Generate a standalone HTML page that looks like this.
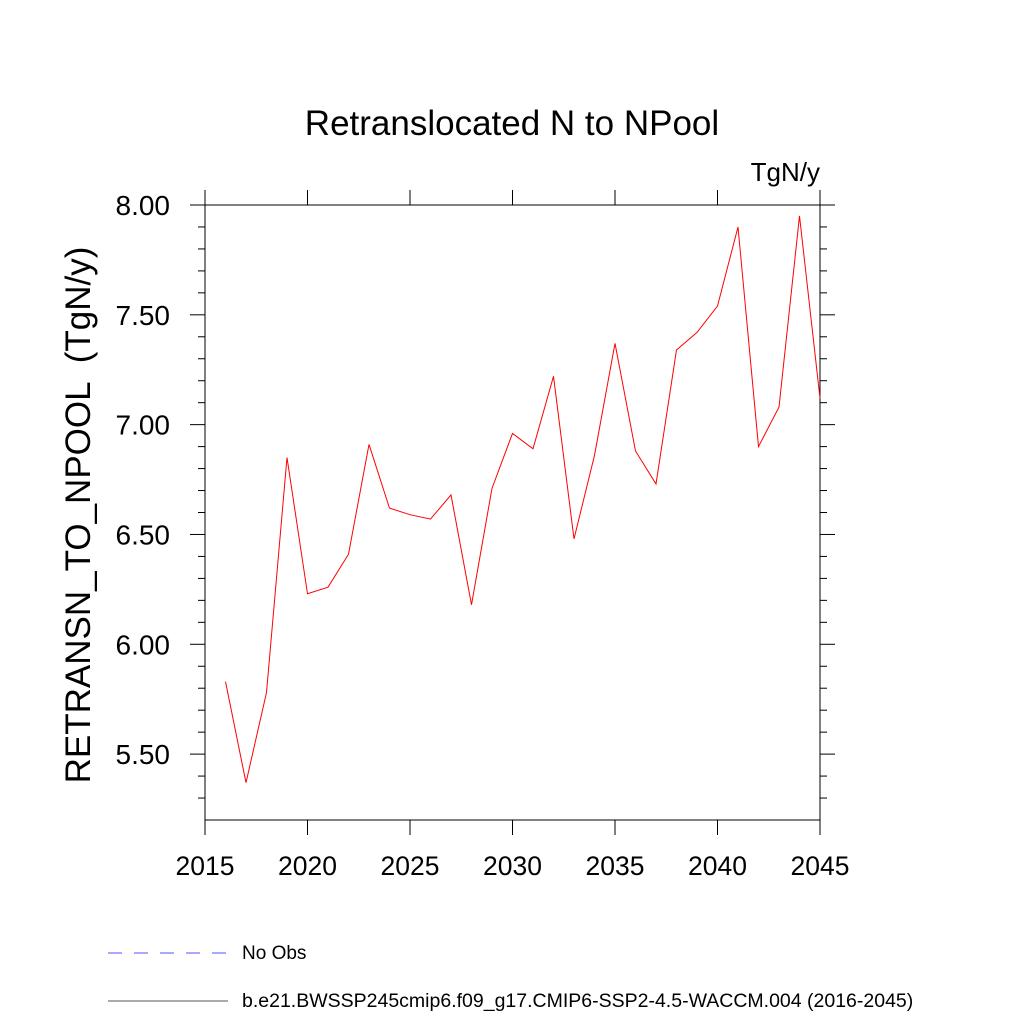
<!DOCTYPE html>
<html><head><meta charset="utf-8"><style>body{margin:0;background:#fff}svg{display:block}</style></head>
<body>
<svg id="chart" width="1024" height="1024" xmlns="http://www.w3.org/2000/svg" font-family="Liberation Sans, sans-serif">
<text x="512" y="135" font-size="35" text-anchor="middle">Retranslocated N to NPool</text>
<text x="820" y="181" font-size="26" text-anchor="end">TgN/y</text>
<text transform="translate(90,515) rotate(-90)" font-size="35" text-anchor="middle" xml:space="preserve" style="white-space:pre">RETRANSN_TO_NPOOL  (TgN/y)</text>
<g id="axes"></g>
<g id="series"></g>
<g>
<line x1="108" y1="953" x2="228" y2="953" stroke="#5050ff" stroke-width="1" stroke-dasharray="14,12"/>
<text x="242" y="959" font-size="19">No Obs</text>
<line x1="108" y1="1001" x2="228" y2="1001" stroke="#555" stroke-width="1"/>
<text x="242" y="1007" font-size="19.5">b.e21.BWSSP245cmip6.f09_g17.CMIP6-SSP2-4.5-WACCM.004 (2016-2045)</text>
</g>
</svg>
<script>
const years=[2016,2017,2018,2019,2020,2021,2022,2023,2024,2025,2026,2027,2028,2029,2030,2031,2032,2033,2034,2035,2036,2037,2038,2039,2040,2041,2042,2043,2044,2045];
const values=[5.83,5.37,5.78,6.85,6.23,6.26,6.41,6.91,6.62,6.59,6.57,6.68,6.18,6.71,6.96,6.89,7.22,6.48,6.86,7.37,6.88,6.73,7.34,7.42,7.54,7.90,6.90,7.08,7.95,7.12];
const xTicks=[2015,2020,2025,2030,2035,2040,2045];
const yTicks=[5.5,6.0,6.5,7.0,7.5,8.0];
const yTickLabels=["5.50","6.00","6.50","7.00","7.50","8.00"];
const NS='http://www.w3.org/2000/svg';
const X0=205,X1=820,Y0=205,Y1=820,XMIN=2015,XMAX=2045,YMIN=5.2,YMAX=8.0;
const xs=v=>X0+(v-XMIN)/(XMAX-XMIN)*(X1-X0);
const ys=v=>Y1-(v-YMIN)/(YMAX-YMIN)*(Y1-Y0);
const ax=document.getElementById('axes');
function ln(x1,y1,x2,y2,name){const l=document.createElementNS(NS,'line');l.setAttribute('x1',x1);l.setAttribute('y1',y1);l.setAttribute('x2',x2);l.setAttribute('y2',y2);l.setAttribute('stroke','#000');l.setAttribute('stroke-width','1');


ax.appendChild(l);}
function tx(x,y,s,anchor,name,fs){const t=document.createElementNS(NS,'text');t.setAttribute('x',x);t.setAttribute('y',y);t.setAttribute('font-size',fs);t.setAttribute('text-anchor',anchor);t.textContent=s;


ax.appendChild(t);}
const fr=document.createElementNS(NS,'rect');fr.setAttribute('x',X0);fr.setAttribute('y',Y0);fr.setAttribute('width',X1-X0);fr.setAttribute('height',Y1-Y0);fr.setAttribute('fill','none');fr.setAttribute('stroke','#000');


ax.appendChild(fr);
xTicks.forEach(v=>{const x=xs(v);ln(x,Y1,x,Y1+15,'x-tick');ln(x,Y0,x,Y0-15,'x-tick-top');tx(x,Y1+55,String(v),'middle','x-tick-label','26.5');});
for(let i=53;i<=80;i++){const v=i/10;const y=ys(v);const major=(i%5===0);const L=major?15:7;
ln(X0-L,y,X0,y,'y-tick');ln(X1,y,X1+L,y,'y-tick-right');}
yTicks.forEach((v,i)=>tx(X0-35,ys(v)+10,yTickLabels[i],'end','y-tick-label','28'));
const p=document.createElementNS(NS,'polyline');
p.setAttribute('points',years.map((y,i)=>xs(y)+','+ys(values[i])).join(' '));
p.setAttribute('fill','none');p.setAttribute('stroke','#ff0000');p.setAttribute('stroke-width','1');


document.getElementById('series').appendChild(p);
</script>
</body></html>
